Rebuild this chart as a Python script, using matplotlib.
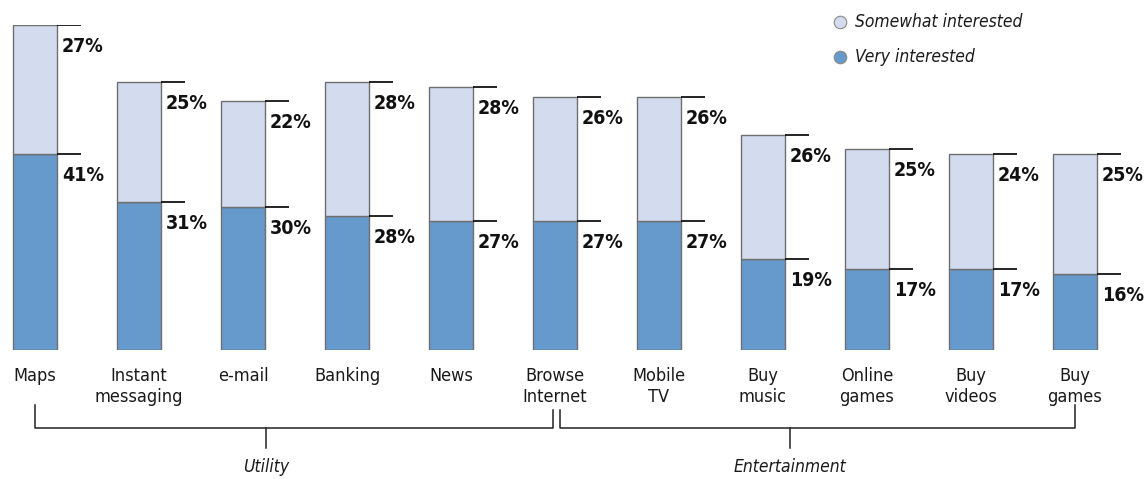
import matplotlib.pyplot as plt
from matplotlib.transforms import blended_transform_factory

FONT = dict(family='DejaVu Sans', stretch='condensed')

categories = ['Maps', 'Instant\nmessaging', 'e-mail', 'Banking', 'News',
              'Browse\nInternet', 'Mobile\nTV', 'Buy\nmusic', 'Online\ngames',
              'Buy\nvideos', 'Buy\ngames']
very = [41, 31, 30, 28, 27, 27, 27, 19, 17, 17, 16]
somewhat = [27, 25, 22, 28, 28, 26, 26, 26, 25, 24, 25]
# group spans given as first and last category index
groups = [('Utility', 0, 5), ('Entertainment', 5, 10)]

BLUE = '#6699cc'
LIGHT = '#d3dbee'
EDGE = '#6f6f6f'

W, H = 1147, 479
fig = plt.figure(figsize=(W / 100, H / 100), dpi=100)
# baseline at y=350 px, ~4.78 px per percent
ax = fig.add_axes([0, (H - 350) / H, 1, 325 / H])
ax.set_ylim(0, 68)
ax.set_xlim(-35 / 104, (W - 35) / 104)
ax.axis('off')

x = list(range(len(categories)))
bw = 44 / 104
ax.bar(x, very, bw, color=BLUE, edgecolor=EDGE, linewidth=1.0, label='Very interested')
ax.bar(x, somewhat, bw, bottom=very, color=LIGHT, edgecolor=EDGE, linewidth=1.0,
       label='Somewhat interested')

tick_len = 24 / 104
for i, (v, s) in enumerate(zip(very, somewhat)):
    for level, val in ((v, v), (v + s, s)):
        ax.plot([i + bw / 2, i + bw / 2 + tick_len], [level, level], color='black', lw=1.2,
                solid_capstyle='butt')
        ax.annotate(f'{val}%', xy=(i + bw / 2, level), xytext=(5, -12),
                    textcoords='offset pixels', ha='left', va='top',
                    fontsize=14, fontweight='bold', color='#111111', **FONT)

trans = blended_transform_factory(ax.transData, fig.transFigure)
def fy(py):
    return (H - py) / H

for i, name in enumerate(categories):
    t = fig.text(0, 0, name, transform=trans, ha='center', va='top', fontsize=13,
                 color='#1a1a1a', linespacing=1.22, **FONT)
    t.set_position((i, fy(367)))

# group brackets
for label, start, stop in groups:
    left = start if start == 0 else start + 0.05
    right = stop if stop == len(categories) - 1 else stop - 0.02
    top_l = fy(405) if start == 0 else fy(410)
    top_r = fy(405) if stop == len(categories) - 1 else fy(410)
    yb = fy(428)
    ax.plot([left, left, right, right], [top_l, yb, yb, top_r], transform=trans,
            color='#222222', lw=1.1, clip_on=False)
    mid = (left + right) / 2 - 0.27
    ax.plot([mid, mid], [yb, fy(448)], transform=trans, color='#222222', lw=1.1, clip_on=False)
    t = fig.text(0, 0, label, transform=trans, ha='center', va='center', fontsize=12.5,
                 style='italic', color='#1a1a1a', **FONT)
    t.set_position((mid, fy(467)))

# legend
for py, col, txt in ((22, LIGHT, 'Somewhat interested'), (57, BLUE, 'Very interested')):
    fig.add_artist(plt.Line2D([840 / W], [fy(py)], marker='o', markersize=9,
                              markerfacecolor=col, markeredgecolor='#8a8a8a',
                              markeredgewidth=0.8, linestyle='none'))
    fig.text(855 / W, fy(py), txt, ha='left', va='center', fontsize=12.5,
             style='italic', color='#1a1a1a', **FONT)

fig.savefig('out.png', dpi=100, facecolor='white')
